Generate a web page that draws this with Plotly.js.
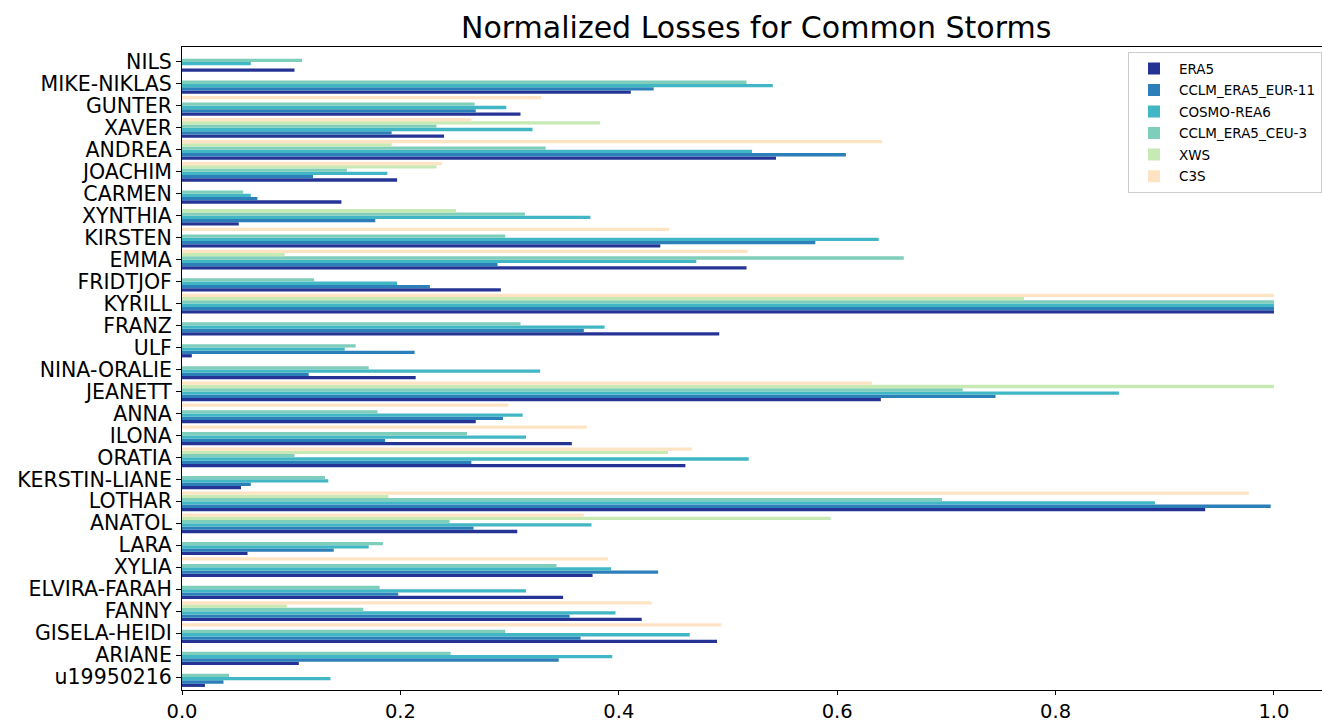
<!DOCTYPE html>
<html>
<head>
<meta charset="utf-8">
<script src="https://cdn.plot.ly/plotly-3.0.1.min.js"></script>
<style>html,body{margin:0;padding:0;background:#fff;}#chart{width:1322px;height:722px;}</style>
</head>
<body>
<div id="chart"></div>
<script>
// Storms, listed top to bottom as drawn
const storms = ["NILS","MIKE-NIKLAS","GUNTER","XAVER","ANDREA","JOACHIM","CARMEN","XYNTHIA","KIRSTEN","EMMA","FRIDTJOF","KYRILL","FRANZ","ULF","NINA-ORALIE","JEANETT","ANNA","ILONA","ORATIA","KERSTIN-LIANE","LOTHAR","ANATOL","LARA","XYLIA","ELVIRA-FARAH","FANNY","GISELA-HEIDI","ARIANE","u19950216"];

const seriesNames = ["ERA5","CCLM_ERA5_EUR-11","COSMO-REA6","CCLM_ERA5_CEU-3","XWS","C3S"];

const era5   = [0.103,0.411,0.310,0.240,0.544,0.197,0.146,0.052,0.438,0.517,0.292,1.0,0.492,0.009,0.214,0.640,0.269,0.357,0.461,0.054,0.937,0.307,0.060,0.376,0.349,0.421,0.490,0.107,0.021];
const eur11  = [null,0.432,0.269,0.192,0.608,0.120,0.069,0.177,0.580,0.289,0.227,1.0,0.368,0.213,0.116,0.745,0.294,0.186,0.265,0.063,0.997,0.267,0.139,0.436,0.198,0.355,0.365,0.345,0.038];
const cosmo  = [0.063,0.541,0.297,0.321,0.522,0.188,0.063,0.374,0.638,0.471,0.197,1.0,0.387,0.149,0.328,0.858,0.312,0.315,0.519,0.134,0.891,0.375,0.171,0.393,0.315,0.397,0.465,0.394,0.136];
const ceu3   = [0.110,0.517,0.268,0.233,0.333,0.151,0.056,0.314,0.296,0.661,0.121,1.0,0.310,0.159,0.171,0.715,0.179,0.261,0.103,0.131,0.696,0.245,0.184,0.343,0.181,0.166,0.296,0.246,0.043];
const xws    = [null,null,null,0.383,0.192,0.233,null,0.251,null,0.094,null,0.771,null,null,null,1.0,null,null,0.445,null,0.189,0.594,null,null,null,0.096,null,null,null];
const c3s    = [null,null,0.329,0.265,0.641,0.238,null,null,0.446,0.518,null,1.0,null,null,null,0.632,0.299,0.371,0.467,null,0.977,0.368,null,0.390,null,0.430,0.494,null,null];

const xTicks = [0,0.2,0.4,0.6,0.8,1.0];
const xTickLabels = ["0.0","0.2","0.4","0.6","0.8","1.0"];

const colors = ["#253494","#2c7fb8","#41b6c4","#7fcdbb","#c7e9b4","#ffe4c4"];
const allValues = [era5, eur11, cosmo, ceu3, xws, c3s];

const font = "DejaVu Sans, Verdana, sans-serif";

const traces = allValues.map((vals, i) => ({
  type: "bar",
  orientation: "h",
  name: seriesNames[i],
  x: vals,
  y: storms,
  marker: {color: colors[i], line: {width: 0}},
  legendgroup: "g" + i,
  hoverinfo: "x+y+name"
}));

const layout = {
  width: 1322,
  height: 722,
  paper_bgcolor: "#ffffff",
  plot_bgcolor: "#ffffff",
  margin: {l: 182, r: 0, t: 47, b: 32, pad: 0},
  font: {family: font, color: "#000000"},
  title: {
    text: "Normalized Losses for Common Storms",
    font: {family: font, size: 30, color: "#000000"},
    xref: "container", x: 0.572, xanchor: "center",
    yref: "container", y: 0.962, yanchor: "middle"
  },
  barmode: "group",
  bargap: 0.1,
  bargroupgap: 0,
  showlegend: true,
  legend: {
    x: 0.83, xanchor: "left",
    y: 0.992, yanchor: "top",
    bgcolor: "rgba(255,255,255,0.85)",
    bordercolor: "#cccccc",
    borderwidth: 1,
    font: {family: font, size: 13.5, color: "#000000"},
    traceorder: "grouped",
    tracegroupgap: 1,
    itemwidth: 40
  },
  xaxis: {
    range: [0, 1.044],
    tickmode: "array",
    tickvals: xTicks,
    ticktext: xTickLabels,
    ticks: "outside",
    ticklen: 4,
    tickwidth: 1,
    tickcolor: "#000000",
    tickfont: {family: font, size: 19.5, color: "#000000"},
    showgrid: false,
    zeroline: false,
    showline: true,
    linecolor: "#000000",
    linewidth: 1,
    mirror: true
  },
  yaxis: {
    type: "category",
    categoryorder: "array",
    categoryarray: storms.slice().reverse(),
    tickmode: "array",
    tickvals: storms,
    ticktext: storms,
    range: [-0.59, 28.68],
    ticks: "outside",
    ticklen: 5,
    tickwidth: 1,
    tickcolor: "#000000",
    tickfont: {family: font, size: 20.5, color: "#000000"},
    showgrid: false,
    zeroline: false,
    showline: true,
    linecolor: "#000000",
    linewidth: 1
  }
};

Plotly.newPlot("chart", traces, layout, {displayModeBar: false, staticPlot: true});
</script>
</body>
</html>
